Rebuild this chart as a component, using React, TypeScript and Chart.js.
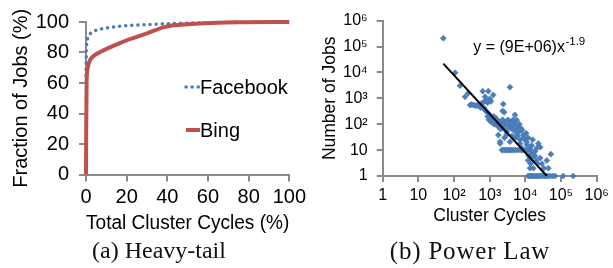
import React, { useEffect, useRef } from 'react';
import { Chart, registerables } from 'chart.js';

Chart.register(...registerables);

// ---------- data: (a) Heavy-tail CDF ----------
const facebookCycles = [0, 0.2, 0.5, 1, 2, 4, 7, 12, 20, 30, 40, 55, 70, 100];
const facebookFraction = [65, 82, 87, 90, 92.2, 94, 95.3, 96.5, 97.6, 98.3, 98.9, 99.4, 99.8, 100];
const bingCycles = [0, 0.1, 0.3, 0.6, 1.2, 2, 4, 7, 12, 20, 30, 38, 43, 50, 62, 75, 100];
const bingFraction = [0, 30, 60, 68, 72, 75, 78, 80.3, 83.5, 88, 92.5, 96.5, 97.8, 98.5, 99.3, 99.8, 100];
const pctTicks = [0, 20, 40, 60, 80, 100];

// ---------- data: (b) Power law scatter ----------
const powerCycles = [
  50, 107, 147, 203, 250, 282, 310, 347, 390, 433, 470, 535, 560, 600, 635, 680, 740, 790, 830, 870, 915, 960, 1020, 1080, 1260, 740, 800, 915, 2400, 2300, 2550, 3700,
  700, 880, 950, 1000, 1050, 1130, 1200, 1260, 1300, 1350, 1450, 1500, 1580, 1650, 1700, 1750, 1850, 1950, 2000, 2100, 2190, 2300, 2400, 2500, 2700, 2800, 3000, 3100, 3330, 3500, 3700, 3900, 4150, 4500, 4800, 5100, 5700, 6300, 5100, 5500, 6800, 7500,
  1750, 1950, 1950, 2190, 2400, 2700, 3000, 3300, 3700, 4100, 4600, 5200, 6000, 7000, 8000, 9000, 10000, 11500, 13500, 2600, 3000, 3700, 4200, 4600, 5100, 5700, 6000, 6500, 7100, 7100, 7900, 8000, 8700, 9000, 9800, 10500, 11000, 11000, 12000, 13500, 15000, 16000, 18600, 21000, 23000, 26000, 52000,
  12000, 12500, 13500, 14000, 14000, 15000, 16700, 17000, 18600, 20000, 22000, 26000, 29000, 33000, 40000, 44000,
  12000, 13000, 14000, 15000, 16500, 18000, 20000, 22000, 24000, 27000, 30000, 34000, 38000, 43000, 50000, 58000, 68000, 115000, 220000,
];
const powerJobs = [
  210000, 9800, 3100, 1150, 1580, 550, 580, 550, 530, 520, 560, 475, 430, 640, 1900, 720, 1150, 800, 790, 680, 1900, 900, 950, 760, 1350, 355, 310, 265, 600, 325, 290, 2700,
  420, 200, 150, 230, 130, 120, 170, 110, 200, 100, 120, 170, 93, 140, 110, 80, 110, 125, 65, 90, 70, 150, 120, 110, 93, 60, 51, 140, 145, 80, 100, 70, 125, 150, 90, 230, 145, 80, 110, 60, 100, 70,
  38, 21, 18, 10, 10, 10, 10, 10, 10, 10, 10, 10, 10, 10, 10, 10, 10, 10, 10, 30, 40, 21, 35, 60, 29, 45, 35, 50, 25, 18, 12, 60, 38, 30, 25, 45, 16, 20, 30, 12, 15, 25, 9, 12, 18, 13, 7,
  4, 6, 2, 3, 7, 5, 2, 8, 6, 4, 3, 5, 3, 2, 4, 2,
  1, 1, 1, 1, 1, 1, 1, 1, 1, 1, 1, 1, 1, 1, 1, 1, 1, 1, 1,
];
const trendCycles = [50, 40000];
const trendJobs = [22000, 1];
const logTickValues = [1, 10, 100, 1000, 10000, 100000, 1000000];
const logTickLabels = ['1', '10', '10²', '10³', '10⁴', '10⁵', '10⁶'];
const equationText = 'y = (9E+06)x';
const equationExponent = '-1.9';

// ---------- styles ----------
const FONT = "'Liberation Sans', Arial, sans-serif";
const BLUE = '#4A7EBB';
const RED = '#C0504D';
const AXIS = '#8A8A8A';

const inlineLegend = {
  id: 'inlineLegend',
  afterDatasetsDraw(chart: any) {
    const { ctx, chartArea } = chart;
    const rows = [65, 108];
    ctx.save();
    chart.data.datasets.forEach((ds: any, i: number) => {
      const y = chartArea.top + rows[i];
      const x0 = chartArea.left + 100;
      ctx.beginPath();
      ctx.strokeStyle = ds.borderColor;
      ctx.lineWidth = ds.borderWidth;
      ctx.lineCap = ds.borderDash ? 'round' : 'butt';
      ctx.setLineDash(ds.borderDash || []);
      ctx.moveTo(x0, y);
      ctx.lineTo(x0 + 14, y);
      ctx.stroke();
      ctx.setLineDash([]);
      ctx.fillStyle = '#000';
      ctx.font = `20px ${FONT}`;
      ctx.textBaseline = 'alphabetic';
      ctx.textAlign = 'left';
      ctx.fillText(ds.label, chartArea.left + 114, y + 7);
    });
    ctx.restore();
  },
};

const trendEquation = {
  id: 'trendEquation',
  afterDatasetsDraw(chart: any) {
    const { ctx, chartArea } = chart;
    const x = chartArea.left + 90.6;
    const y = chartArea.top + 31;
    ctx.save();
    ctx.fillStyle = '#000';
    ctx.textBaseline = 'alphabetic';
    ctx.textAlign = 'left';
    ctx.font = `16px ${FONT}`;
    ctx.fillText(equationText, x, y);
    const w = ctx.measureText(equationText).width;
    ctx.font = `11.5px ${FONT}`;
    ctx.fillText(equationExponent, x + w + 0.5, y - 6.7);
    ctx.restore();
  },
};

function HeavyTail() {
  const ref = useRef<HTMLCanvasElement>(null);
  useEffect(() => {
    const tickFont = { family: FONT, size: 20 };
    const chart = new Chart(ref.current as HTMLCanvasElement, {
      type: 'line',
      data: {
        datasets: [
          {
            label: 'Facebook',
            data: facebookCycles.map((x, i) => ({ x, y: facebookFraction[i] })),
            borderColor: BLUE,
            borderWidth: 3.5,
            borderDash: [0.1, 6],
            borderCapStyle: 'round',
            pointRadius: 0,
            cubicInterpolationMode: 'monotone',
            clip: false,
            order: 1,
          } as any,
          {
            label: 'Bing',
            data: bingCycles.map((x, i) => ({ x, y: bingFraction[i] })),
            borderColor: RED,
            borderWidth: 4,
            pointRadius: 0,
            cubicInterpolationMode: 'monotone',
            clip: false,
            order: 0,
          } as any,
        ],
      },
      options: {
        animation: false,
        responsive: false,
        maintainAspectRatio: false,
        layout: { padding: { left: 0, top: 19, right: 16.7, bottom: 0 } },
        plugins: { legend: { display: false }, tooltip: { enabled: false } },
        scales: {
          x: {
            type: 'linear',
            min: 0,
            max: 100,
            afterBuildTicks: (s: any) => { s.ticks = pctTicks.map((v) => ({ value: v })); },
            afterFit: (s: any) => { s.height = 65.5; },
            ticks: { color: '#000', font: tickFont, padding: 4, maxRotation: 0 },
            grid: { drawOnChartArea: false, drawTicks: true, tickLength: 7, color: AXIS, lineWidth: 2 },
            border: { display: true, color: AXIS, width: 2 },
            title: { display: true, text: 'Total Cluster Cycles (%)', color: '#000', font: tickFont, padding: { top: 0, bottom: 5 } },
          },
          y: {
            type: 'linear',
            min: 0,
            max: 100,
            afterBuildTicks: (s: any) => { s.ticks = pctTicks.map((v) => ({ value: v })); },
            afterFit: (s: any) => { s.width = 86; },
            ticks: { color: '#000', font: tickFont, padding: 10 },
            grid: { drawOnChartArea: false, drawTicks: true, tickLength: 7, color: AXIS, lineWidth: 2 },
            border: { display: true, color: AXIS, width: 2 },
            title: { display: true, text: 'Fraction of Jobs (%)', color: '#000', font: tickFont, padding: { top: 9, bottom: 0 } },
          },
        },
      } as any,
      plugins: [inlineLegend],
    });
    return () => chart.destroy();
  }, []);
  return <canvas ref={ref} width={310} height={240} style={{ position: 'absolute', left: 0, top: 0, width: 310, height: 240 }} />;
}

function PowerLaw() {
  const ref = useRef<HTMLCanvasElement>(null);
  useEffect(() => {
    const tickFont = { family: FONT, size: 16 };
    const titleFont = { family: FONT, size: 17.5 };
    const chart = new Chart(ref.current as HTMLCanvasElement, {
      type: 'scatter',
      data: {
        datasets: [
          {
            type: 'line',
            label: 'Trend',
            data: trendCycles.map((x, i) => ({ x, y: trendJobs[i] })),
            borderColor: '#000',
            borderWidth: 2,
            pointRadius: 0,
            showLine: true,
            order: 0,
          } as any,
          {
            label: 'Jobs',
            data: powerCycles.map((x, i) => ({ x, y: powerJobs[i] })),
            backgroundColor: BLUE,
            borderColor: BLUE,
            borderWidth: 0.6,
            pointStyle: 'rectRot',
            pointRadius: 3,
            clip: false,
            order: 1,
          } as any,
        ],
      },
      options: {
        animation: false,
        responsive: false,
        maintainAspectRatio: false,
        layout: { padding: { left: 0, top: 20.7, right: 16.3, bottom: 0 } },
        plugins: { legend: { display: false }, tooltip: { enabled: false } },
        scales: {
          x: {
            type: 'logarithmic',
            min: 1,
            max: 1000000,
            afterBuildTicks: (s: any) => { s.ticks = logTickValues.map((v) => ({ value: v })); },
            afterFit: (s: any) => { s.height = 64; },
            ticks: { color: '#000', font: tickFont, padding: 4, maxRotation: 0, autoSkip: false, callback: (_v: any, i: number) => logTickLabels[i] },
            grid: { drawOnChartArea: false, drawTicks: true, tickLength: 6, color: AXIS, lineWidth: 2 },
            border: { display: true, color: AXIS, width: 2 },
            title: { display: true, text: 'Cluster Cycles', color: '#000', font: titleFont, padding: { top: 0, bottom: 13.5 } },
          },
          y: {
            type: 'logarithmic',
            min: 1,
            max: 1000000,
            afterBuildTicks: (s: any) => { s.ticks = logTickValues.map((v) => ({ value: v })); },
            afterFit: (s: any) => { s.width = 72.7; },
            ticks: { color: '#000', font: tickFont, padding: 9, autoSkip: false, callback: (_v: any, i: number) => logTickLabels[i] },
            grid: { drawOnChartArea: false, drawTicks: true, tickLength: 6, color: AXIS, lineWidth: 2 },
            border: { display: true, color: AXIS, width: 2 },
            title: { display: true, text: 'Number of Jobs', color: '#000', font: titleFont, padding: { top: 9.2, bottom: 0 } },
          },
        },
      } as any,
      plugins: [trendEquation],
    });
    return () => chart.destroy();
  }, []);
  return <canvas ref={ref} width={303} height={240} style={{ position: 'absolute', left: 310, top: 0, width: 303, height: 240 }} />;
}

const captionStyle: React.CSSProperties = {
  position: 'absolute',
  top: 238.5,
  width: 220,
  textAlign: 'center',
  fontFamily: "'Liberation Serif', 'Times New Roman', serif",
  lineHeight: '23px',
  color: '#111',
  whiteSpace: 'nowrap',
};

export default function App() {
  return (
    <div style={{ position: 'fixed', left: 0, top: 0, width: 613, height: 268, background: '#fff', overflow: 'hidden' }}>
      <HeavyTail />
      <PowerLaw />
      <div style={{ ...captionStyle, left: 49, fontSize: 24 }}>(a) Heavy-tail</div>
      <div style={{ ...captionStyle, left: 360, fontSize: 25, letterSpacing: '0.8px' }}>(b) Power Law</div>
    </div>
  );
}
